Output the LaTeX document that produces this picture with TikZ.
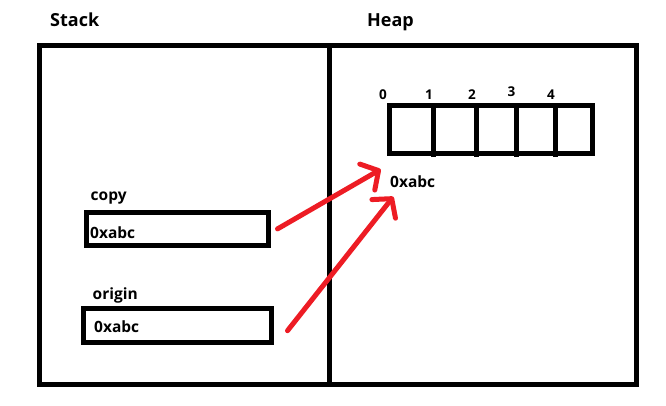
\documentclass[tikz,border=0pt]{standalone}
\usepackage{fontspec}
\setmainfont{Open Sans}
\usetikzlibrary{arrows.meta}
\definecolor{paintred}{HTML}{ED1C24}
\begin{document}
\begin{tikzpicture}[x=1pt,y=-1pt,
  frame/.style={draw=black,line width=5pt},
  cellbox/.style={draw=black,line width=5pt,rectangle,inner sep=0pt},
  title/.style={inner sep=0pt,anchor=base west,font=\bfseries\fontsize{18}{20}\selectfont},
  lbl/.style={inner sep=0pt,anchor=base west,font=\bfseries\fontsize{15.5}{18}\selectfont},
  idx/.style={inner sep=0pt,anchor=base west,font=\bfseries\fontsize{13.5}{15}\selectfont},
  ptr/.style={draw=paintred,line width=5pt,line cap=round,
    -{Straight Barb[length=13pt,width=30pt,line cap=round,line join=round]}}]
\useasboundingbox (0,0) rectangle (666,405);
% panels
\node[cellbox,minimum width=597pt,minimum height=339.5pt] (mem) at (338,214.75) {};
\coordinate (divtop) at (329.5,45);
\coordinate (divbot) at (329.5,384.5);
\draw[frame] (divtop) -- (divbot);
\node[title] (stack) at (50,26) {Stack};
\node[title] (heap) at (367,26) {Heap};
% heap array
\node[cellbox,minimum width=203pt,minimum height=48.5pt] (arr) at (491,129.25) {};
\foreach \x [count=\i] in {433,476,516,555} {
  \coordinate (dt\i) at (\x,105);
  \coordinate (db\i) at (\x,157);
  \draw[frame] (dt\i) -- (db\i);
}
\node[idx] (i0) at (379,99) {0};
\node[idx] (i1) at (425,99) {1};
\node[idx] (i2) at (468,99) {2};
\node[idx] (i3) at (507.5,96.5) {3};
\node[idx] (i4) at (547,99) {4};
\node[lbl] (heapaddr) at (390,187) {0xabc};
% stack variables
\node[lbl] (copylbl) at (90.5,200.5) {copy};
\node[cellbox,minimum width=181.8pt,minimum height=33.8pt] (copybox) at (177.6,228.9) {};
\node[lbl] (copyval) at (90,238.5) {0xabc};
\node[lbl] (originlbl) at (92.5,299.5) {origin};
\node[cellbox,minimum width=188.7pt,minimum height=34.2pt] (originbox) at (177.35,325.4) {};
\node[lbl] (originval) at (94,332.5) {0xabc};
% pointers
\coordinate (tip1) at (380.7,169.3);
\coordinate (tip2) at (393.3,196.7);
\draw[ptr] ([shift={(6.5,0)}]copybox.east) -- (tip1);
\draw[ptr] ([shift={(13.3,5.3)}]originbox.east) -- (tip2);
\end{tikzpicture}
\end{document}
